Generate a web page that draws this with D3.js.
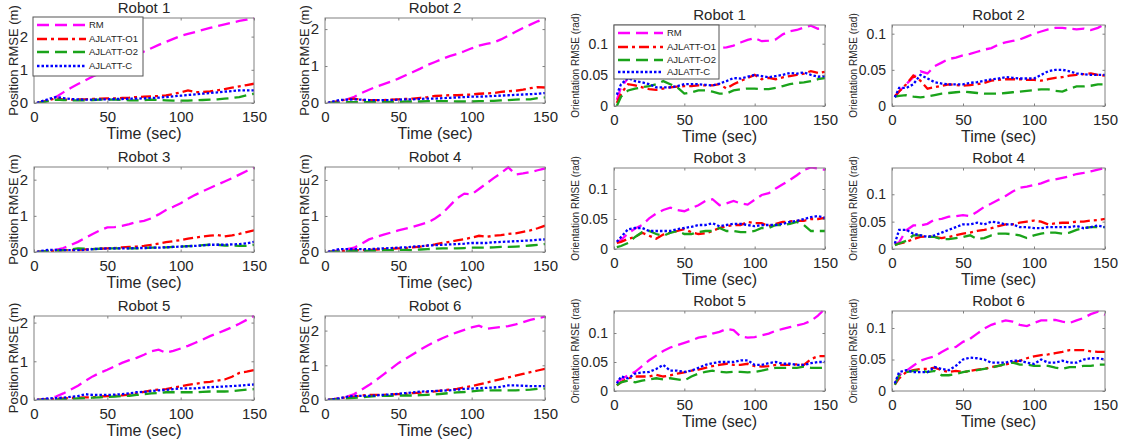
<!DOCTYPE html>
<html>
<head>
<meta charset="utf-8">
<script src="https://cdn.jsdelivr.net/npm/d3@7"></script>
<style>
  body { margin: 0; background: #fff; }
  svg { display: block; font-family: "Liberation Sans", Arial, sans-serif; }
</style>
</head>
<body>
<div id="chart"></div>
<script>
'use strict'

// time stamps (sec) shared by every series
var time = [2, 5, 10, 15, 20, 25, 30, 35, 40, 45, 50, 55, 60, 65, 70, 75, 80, 85, 90, 95, 100, 105, 110, 115, 120, 125, 130, 135, 140, 145, 150];

var robots = ['Robot 1', 'Robot 2', 'Robot 3', 'Robot 4', 'Robot 5', 'Robot 6'];
var seriesNames = ['RM', 'AJLATT-O1', 'AJLATT-O2', 'AJLATT-C'];
var xTicks = [0, 50, 100, 150];
var posTicks = [0, 1, 2];
var oriTicks = [0, 0.05, 0.1];
var posMax = [2.56, 2.3, 2.35, 2.36, 2.17, 2.42];
var oriMax = [0.13, 0.112, 0.135, 0.148, 0.138, 0.127];

// position RMSE (m), one row per robot
var posRM = [
  [0, 0.02, 0.08, 0.18, 0.32, 0.45, 0.57, 0.68, 0.8, 0.9, 1.0, 1.13, 1.25, 1.35, 1.45, 1.55, 1.65, 1.75, 1.84, 1.93, 2.02, 2.08, 2.14, 2.2, 2.26, 2.32, 2.37, 2.42, 2.47, 2.51, 2.55],
  [0, 0.01, 0.04, 0.1, 0.17, 0.27, 0.36, 0.44, 0.51, 0.58, 0.66, 0.75, 0.84, 0.93, 1.03, 1.11, 1.19, 1.27, 1.33, 1.4, 1.48, 1.55, 1.6, 1.64, 1.72, 1.82, 1.93, 2.03, 2.12, 2.21, 2.29],
  [0, 0.01, 0.03, 0.06, 0.11, 0.19, 0.28, 0.39, 0.5, 0.6, 0.68, 0.69, 0.72, 0.77, 0.83, 0.86, 0.93, 1.04, 1.16, 1.25, 1.35, 1.47, 1.58, 1.68, 1.77, 1.86, 1.95, 2.04, 2.14, 2.24, 2.33],
  [0, 0.02, 0.05, 0.08, 0.12, 0.23, 0.35, 0.42, 0.48, 0.54, 0.6, 0.65, 0.7, 0.76, 0.82, 0.93, 1.07, 1.28, 1.49, 1.62, 1.6, 1.75, 1.9, 2.05, 2.19, 2.35, 2.15, 2.18, 2.22, 2.27, 2.32],
  [0, 0.01, 0.03, 0.09, 0.17, 0.27, 0.37, 0.49, 0.61, 0.7, 0.78, 0.87, 0.96, 1.03, 1.09, 1.17, 1.26, 1.3, 1.22, 1.27, 1.33, 1.4, 1.48, 1.56, 1.65, 1.72, 1.8, 1.88, 1.97, 2.07, 2.17],
  [0, 0.02, 0.05, 0.1, 0.17, 0.3, 0.43, 0.58, 0.74, 0.9, 1.06, 1.19, 1.32, 1.45, 1.57, 1.68, 1.78, 1.87, 1.95, 2.02, 2.09, 2.14, 2.05, 2.08, 2.1, 2.13, 2.18, 2.24, 2.31, 2.36, 2.4]
];
var posO1 = [
  [0, 0.03, 0.08, 0.15, 0.1, 0.1, 0.11, 0.11, 0.12, 0.13, 0.14, 0.14, 0.15, 0.16, 0.18, 0.19, 0.2, 0.21, 0.23, 0.27, 0.32, 0.38, 0.33, 0.33, 0.35, 0.38, 0.42, 0.46, 0.5, 0.54, 0.58],
  [0, 0.02, 0.06, 0.1, 0.12, 0.08, 0.08, 0.08, 0.08, 0.09, 0.1, 0.11, 0.12, 0.14, 0.16, 0.19, 0.2, 0.21, 0.21, 0.22, 0.23, 0.25, 0.26, 0.27, 0.3, 0.32, 0.33, 0.36, 0.4, 0.43, 0.42],
  [0, 0.01, 0.02, 0.04, 0.05, 0.05, 0.06, 0.07, 0.08, 0.09, 0.1, 0.11, 0.13, 0.14, 0.15, 0.17, 0.2, 0.23, 0.27, 0.3, 0.33, 0.37, 0.4, 0.43, 0.45, 0.47, 0.43, 0.46, 0.5, 0.55, 0.6],
  [0, 0.01, 0.02, 0.04, 0.05, 0.05, 0.06, 0.07, 0.08, 0.09, 0.1, 0.11, 0.13, 0.15, 0.18, 0.21, 0.25, 0.28, 0.32, 0.36, 0.4, 0.45, 0.42, 0.45, 0.47, 0.5, 0.52, 0.56, 0.6, 0.66, 0.73],
  [0, 0.01, 0.02, 0.03, 0.04, 0.05, 0.06, 0.07, 0.07, 0.09, 0.1, 0.11, 0.12, 0.14, 0.17, 0.21, 0.25, 0.27, 0.28, 0.32, 0.35, 0.39, 0.42, 0.45, 0.47, 0.5, 0.53, 0.6, 0.7, 0.73, 0.77],
  [0, 0.02, 0.05, 0.08, 0.1, 0.13, 0.15, 0.15, 0.15, 0.16, 0.17, 0.18, 0.2, 0.21, 0.23, 0.25, 0.28, 0.3, 0.32, 0.36, 0.4, 0.45, 0.5, 0.55, 0.6, 0.65, 0.7, 0.75, 0.8, 0.85, 0.9]
];
var posO2 = [
  [0, 0.02, 0.06, 0.1, 0.09, 0.08, 0.08, 0.08, 0.09, 0.1, 0.1, 0.1, 0.09, 0.08, 0.08, 0.09, 0.1, 0.09, 0.08, 0.07, 0.07, 0.07, 0.08, 0.09, 0.1, 0.11, 0.13, 0.15, 0.18, 0.23, 0.28],
  [0, 0.01, 0.01, 0.02, 0.02, 0.02, 0.02, 0.02, 0.02, 0.03, 0.03, 0.04, 0.04, 0.04, 0.05, 0.05, 0.05, 0.05, 0.04, 0.04, 0.04, 0.05, 0.05, 0.06, 0.07, 0.08, 0.09, 0.1, 0.1, 0.13, 0.15],
  [0, 0.01, 0.03, 0.04, 0.05, 0.07, 0.1, 0.09, 0.08, 0.09, 0.1, 0.1, 0.1, 0.1, 0.1, 0.11, 0.12, 0.12, 0.13, 0.14, 0.15, 0.16, 0.17, 0.19, 0.2, 0.2, 0.18, 0.18, 0.17, 0.17, 0.2],
  [0, 0.01, 0.02, 0.02, 0.03, 0.03, 0.04, 0.04, 0.05, 0.05, 0.06, 0.06, 0.05, 0.07, 0.08, 0.09, 0.1, 0.1, 0.1, 0.11, 0.12, 0.12, 0.12, 0.13, 0.14, 0.14, 0.15, 0.16, 0.18, 0.2, 0.22],
  [0, 0.005, 0.01, 0.015, 0.02, 0.03, 0.04, 0.05, 0.06, 0.07, 0.08, 0.09, 0.1, 0.11, 0.13, 0.15, 0.17, 0.18, 0.2, 0.2, 0.2, 0.2, 0.2, 0.21, 0.22, 0.22, 0.22, 0.23, 0.25, 0.27, 0.28],
  [0, 0.01, 0.03, 0.05, 0.06, 0.08, 0.1, 0.11, 0.12, 0.12, 0.13, 0.13, 0.13, 0.14, 0.15, 0.16, 0.18, 0.2, 0.22, 0.23, 0.25, 0.27, 0.28, 0.28, 0.28, 0.28, 0.28, 0.29, 0.3, 0.32, 0.33]
];
var posC = [
  [0, 0.05, 0.12, 0.18, 0.15, 0.12, 0.11, 0.1, 0.1, 0.11, 0.11, 0.12, 0.12, 0.13, 0.13, 0.14, 0.15, 0.16, 0.18, 0.2, 0.22, 0.24, 0.26, 0.28, 0.3, 0.32, 0.34, 0.36, 0.38, 0.38, 0.38],
  [0, 0.04, 0.08, 0.09, 0.1, 0.09, 0.08, 0.08, 0.08, 0.08, 0.09, 0.1, 0.1, 0.11, 0.12, 0.12, 0.13, 0.14, 0.15, 0.16, 0.17, 0.17, 0.18, 0.19, 0.2, 0.21, 0.22, 0.23, 0.24, 0.25, 0.27],
  [0, 0.03, 0.06, 0.06, 0.05, 0.05, 0.05, 0.06, 0.08, 0.09, 0.1, 0.1, 0.1, 0.1, 0.11, 0.11, 0.12, 0.12, 0.13, 0.14, 0.15, 0.16, 0.17, 0.18, 0.2, 0.2, 0.2, 0.21, 0.22, 0.24, 0.28],
  [0, 0.04, 0.08, 0.08, 0.08, 0.08, 0.08, 0.09, 0.1, 0.11, 0.12, 0.13, 0.15, 0.16, 0.18, 0.19, 0.2, 0.21, 0.22, 0.23, 0.25, 0.25, 0.25, 0.27, 0.28, 0.29, 0.3, 0.31, 0.32, 0.34, 0.35],
  [0, 0.02, 0.04, 0.05, 0.06, 0.08, 0.1, 0.15, 0.13, 0.13, 0.13, 0.14, 0.15, 0.17, 0.2, 0.21, 0.23, 0.25, 0.26, 0.28, 0.3, 0.3, 0.3, 0.32, 0.33, 0.34, 0.35, 0.36, 0.37, 0.39, 0.4],
  [0, 0.02, 0.05, 0.09, 0.12, 0.12, 0.12, 0.13, 0.15, 0.16, 0.18, 0.2, 0.22, 0.24, 0.25, 0.26, 0.27, 0.28, 0.3, 0.32, 0.33, 0.34, 0.35, 0.36, 0.38, 0.42, 0.42, 0.41, 0.4, 0.4, 0.4]
];

// orientation RMSE (rad), one row per robot
var oriRM = [
  [0.01, 0.03, 0.045, 0.055, 0.06, 0.065, 0.07, 0.072, 0.075, 0.078, 0.08, 0.083, 0.085, 0.088, 0.09, 0.093, 0.094, 0.097, 0.102, 0.106, 0.109, 0.104, 0.105, 0.107, 0.115, 0.12, 0.122, 0.126, 0.129, 0.124, 0.125],
  [0.013, 0.02, 0.03, 0.04, 0.048, 0.045, 0.055, 0.06, 0.065, 0.067, 0.07, 0.072, 0.075, 0.078, 0.08, 0.085, 0.088, 0.09, 0.092, 0.096, 0.1, 0.103, 0.106, 0.108, 0.108, 0.107, 0.106, 0.107, 0.105, 0.108, 0.113],
  [0.012, 0.015, 0.026, 0.034, 0.04, 0.051, 0.059, 0.065, 0.069, 0.065, 0.063, 0.068, 0.073, 0.08, 0.083, 0.073, 0.076, 0.08, 0.076, 0.074, 0.082, 0.09, 0.093, 0.101, 0.108, 0.115, 0.123, 0.132, 0.136, 0.134, 0.132],
  [0.009, 0.012, 0.034, 0.043, 0.043, 0.046, 0.054, 0.055, 0.059, 0.06, 0.062, 0.06, 0.068, 0.077, 0.083, 0.09, 0.097, 0.105, 0.112, 0.114, 0.117, 0.12, 0.125, 0.127, 0.13, 0.133, 0.137, 0.139, 0.142, 0.145, 0.148],
  [0.016, 0.02, 0.027, 0.033, 0.043, 0.053, 0.061, 0.069, 0.075, 0.079, 0.083, 0.087, 0.092, 0.094, 0.099, 0.102, 0.107, 0.105, 0.094, 0.092, 0.093, 0.096, 0.099, 0.104, 0.107, 0.11, 0.113, 0.116, 0.121, 0.13, 0.142],
  [0.012, 0.025, 0.032, 0.04, 0.048, 0.052, 0.055, 0.062, 0.068, 0.07, 0.078, 0.083, 0.091, 0.099, 0.105, 0.109, 0.112, 0.11, 0.105, 0.103, 0.108, 0.112, 0.112, 0.113, 0.11, 0.108, 0.112, 0.116, 0.122, 0.126, 0.121]
];
var oriO1 = [
  [0.005, 0.02, 0.035, 0.033, 0.03, 0.027, 0.026, 0.028, 0.03, 0.031, 0.032, 0.032, 0.033, 0.033, 0.033, 0.035, 0.028, 0.035, 0.04, 0.045, 0.05, 0.043, 0.045, 0.043, 0.046, 0.048, 0.05, 0.052, 0.056, 0.053, 0.055],
  [0.013, 0.02, 0.03, 0.042, 0.035, 0.024, 0.026, 0.028, 0.03, 0.029, 0.028, 0.029, 0.03, 0.032, 0.035, 0.036, 0.037, 0.037, 0.037, 0.036, 0.036, 0.035, 0.037, 0.039, 0.04, 0.042, 0.043, 0.044, 0.045, 0.043, 0.042],
  [0.01, 0.012, 0.017, 0.02, 0.027, 0.022, 0.017, 0.024, 0.027, 0.03, 0.033, 0.028, 0.025, 0.026, 0.03, 0.035, 0.038, 0.04, 0.04, 0.045, 0.043, 0.043, 0.038, 0.042, 0.045, 0.046, 0.047, 0.047, 0.05, 0.05, 0.052],
  [0.008, 0.01, 0.013, 0.018, 0.022, 0.023, 0.022, 0.02, 0.022, 0.025, 0.028, 0.03, 0.033, 0.035, 0.038, 0.042, 0.045, 0.045, 0.048, 0.05, 0.052, 0.05, 0.045, 0.047, 0.048, 0.048, 0.05, 0.05, 0.052, 0.053, 0.055],
  [0.01, 0.015, 0.022, 0.025, 0.025, 0.025, 0.028, 0.025, 0.027, 0.03, 0.032, 0.035, 0.037, 0.04, 0.043, 0.045, 0.047, 0.045, 0.045, 0.047, 0.043, 0.042, 0.043, 0.045, 0.045, 0.045, 0.046, 0.045, 0.055, 0.06, 0.06],
  [0.01, 0.02, 0.03, 0.033, 0.035, 0.035, 0.037, 0.033, 0.03, 0.032, 0.03, 0.032, 0.034, 0.035, 0.038, 0.04, 0.042, 0.045, 0.048, 0.052, 0.055, 0.057, 0.058, 0.06, 0.062, 0.065, 0.065, 0.065, 0.063, 0.062, 0.062]
];
var oriO2 = [
  [0, 0.015, 0.025, 0.028, 0.03, 0.032, 0.035, 0.04, 0.035, 0.03, 0.02, 0.022, 0.025, 0.025, 0.023, 0.02, 0.02, 0.025, 0.027, 0.028, 0.028, 0.027, 0.027, 0.029, 0.032, 0.035, 0.037, 0.038, 0.04, 0.043, 0.045],
  [0.013, 0.014, 0.015, 0.013, 0.012, 0.013, 0.015, 0.017, 0.018, 0.019, 0.02, 0.019, 0.018, 0.017, 0.017, 0.017, 0.018, 0.019, 0.02, 0.021, 0.022, 0.023, 0.023, 0.021, 0.02, 0.024, 0.027, 0.027, 0.028, 0.03, 0.03],
  [0.003, 0.005, 0.01, 0.02, 0.028, 0.03, 0.025, 0.022, 0.027, 0.03, 0.025, 0.025, 0.028, 0.03, 0.03, 0.035, 0.03, 0.03, 0.028, 0.028, 0.03, 0.035, 0.035, 0.04, 0.04, 0.042, 0.045, 0.04, 0.03, 0.03, 0.03],
  [0.007, 0.01, 0.015, 0.025, 0.025, 0.022, 0.022, 0.018, 0.018, 0.02, 0.022, 0.025, 0.018, 0.02, 0.025, 0.028, 0.028, 0.027, 0.025, 0.02, 0.025, 0.028, 0.03, 0.03, 0.028, 0.03, 0.035, 0.038, 0.04, 0.04, 0.04],
  [0.01, 0.015, 0.018, 0.015, 0.018, 0.02, 0.022, 0.02, 0.022, 0.02, 0.018, 0.025, 0.03, 0.033, 0.035, 0.033, 0.032, 0.033, 0.033, 0.032, 0.033, 0.035, 0.038, 0.04, 0.04, 0.04, 0.04, 0.042, 0.04, 0.04, 0.04],
  [0.01, 0.025, 0.03, 0.032, 0.033, 0.03, 0.032, 0.025, 0.025, 0.027, 0.03, 0.032, 0.033, 0.035, 0.037, 0.04, 0.043, 0.045, 0.042, 0.042, 0.04, 0.04, 0.04, 0.037, 0.035, 0.038, 0.038, 0.04, 0.04, 0.042, 0.042]
];
var oriC = [
  [0.018, 0.035, 0.045, 0.04, 0.038, 0.035, 0.03, 0.03, 0.03, 0.032, 0.035, 0.035, 0.035, 0.034, 0.033, 0.036, 0.04, 0.045, 0.044, 0.047, 0.05, 0.048, 0.046, 0.048, 0.05, 0.053, 0.052, 0.054, 0.05, 0.047, 0.048],
  [0.012, 0.025, 0.025, 0.03, 0.043, 0.038, 0.033, 0.031, 0.03, 0.03, 0.03, 0.032, 0.033, 0.035, 0.037, 0.038, 0.04, 0.039, 0.038, 0.038, 0.038, 0.043, 0.048, 0.05, 0.05, 0.048, 0.045, 0.044, 0.043, 0.043, 0.043],
  [0.012, 0.02, 0.033, 0.035, 0.035, 0.03, 0.03, 0.03, 0.03, 0.033, 0.035, 0.037, 0.04, 0.04, 0.043, 0.038, 0.04, 0.042, 0.042, 0.04, 0.038, 0.04, 0.04, 0.04, 0.042, 0.045, 0.047, 0.05, 0.053, 0.055, 0.052],
  [0.01, 0.035, 0.035, 0.028, 0.025, 0.022, 0.025, 0.03, 0.035, 0.04, 0.045, 0.045, 0.048, 0.045, 0.05, 0.048, 0.045, 0.045, 0.04, 0.04, 0.038, 0.038, 0.04, 0.04, 0.04, 0.04, 0.042, 0.038, 0.04, 0.043, 0.04],
  [0.013, 0.025, 0.022, 0.03, 0.032, 0.033, 0.038, 0.045, 0.035, 0.035, 0.033, 0.035, 0.04, 0.045, 0.048, 0.05, 0.05, 0.05, 0.053, 0.053, 0.045, 0.045, 0.048, 0.05, 0.047, 0.047, 0.045, 0.045, 0.048, 0.05, 0.05],
  [0.012, 0.03, 0.033, 0.03, 0.03, 0.03, 0.038, 0.035, 0.033, 0.04, 0.05, 0.053, 0.052, 0.05, 0.045, 0.045, 0.045, 0.048, 0.048, 0.045, 0.043, 0.05, 0.045, 0.045, 0.048, 0.045, 0.045, 0.05, 0.052, 0.052, 0.05]
];

(function() {
  var W = 1127, H = 445;
  var textColor = '#262626';
  var boxColor = '#808080';

  var lineStyles = [
    { color: '#ff00ff', dash: '12,6' },
    { color: '#ff0000', dash: '10,4,3,4' },
    { color: '#1aa31a', dash: '12,6' },
    { color: '#0000ff', dash: '2.5,2' }
  ];

  // axes boxes: columns [left, right], rows [top, bottom]
  var colX = [[34, 254], [325, 545], [614, 825], [892, 1105]];
  var rowY = {
    pos: [[18, 103], [167, 252], [316, 400]],
    ori: [[25, 106], [168, 249], [311, 391]]
  };

  var svg = d3.select('#chart').append('svg')
    .attr('width', W)
    .attr('height', H);

  var defs = svg.append('defs');

  function drawPanel(kind, i) {
    var row = Math.floor(i / 2);
    var col = (i % 2) + (kind === 'ori' ? 2 : 0);
    var left = colX[col][0], right = colX[col][1];
    var top = rowY[kind][row][0], bottom = rowY[kind][row][1];
    var ymax = kind === 'pos' ? posMax[i] : oriMax[i];
    var ticks = kind === 'pos' ? posTicks : oriTicks;
    var data = kind === 'pos' ? [posRM[i], posO1[i], posO2[i], posC[i]] : [oriRM[i], oriO1[i], oriO2[i], oriC[i]];

    var x = d3.scaleLinear().domain([0, 150]).range([left, right]);
    var y = d3.scaleLinear().domain([0, ymax]).range([bottom, top]);

    var g = svg.append('g').attr('class', 'panel');
    var clipId = 'clip-' + kind + i;
    defs.append('clipPath').attr('id', clipId)
      .append('rect')
      .attr('x', left).attr('y', top - 1)
      .attr('width', right - left).attr('height', bottom - top + 1);

    var lineG = g.append('g').attr('clip-path', 'url(#' + clipId + ')');
    var line = d3.line()
      .x(function(d, j) { return x(time[j]); })
      .y(function(d) { return y(d); });

    data.forEach(function(vals, s) {
      lineG.append('path')
        .datum(vals)
        .attr('d', line)
        .attr('fill', 'none')
        .attr('stroke', lineStyles[s].color)
        .attr('stroke-width', 2.3)
        .attr('stroke-dasharray', lineStyles[s].dash);
    });

    // axes
    var xAxis = d3.axisBottom(x).tickValues(xTicks).tickSizeInner(-2.5).tickSizeOuter(0).tickPadding(6);
    var xAxisTop = d3.axisTop(x).tickValues(xTicks).tickSizeInner(-2.5).tickSizeOuter(0).tickFormat('');
    var yAxis = d3.axisLeft(y).tickValues(ticks).tickSizeInner(-2.5).tickSizeOuter(0).tickPadding(6)
      .tickFormat(function(d) { return String(d); });
    var yAxisRight = d3.axisRight(y).tickValues(ticks).tickSizeInner(-2.5).tickSizeOuter(0).tickFormat('');

    var ax = g.append('g').attr('transform', 'translate(0,' + bottom + ')').call(xAxis);
    var axT = g.append('g').attr('transform', 'translate(0,' + top + ')').call(xAxisTop);
    var ay = g.append('g').attr('transform', 'translate(' + left + ',0)').call(yAxis);
    var ayR = g.append('g').attr('transform', 'translate(' + right + ',0)').call(yAxisRight);

    [ax, axT, ay, ayR].forEach(function(a) {
      a.select('.domain').remove();
      a.selectAll('.tick line').attr('stroke', boxColor);
      a.selectAll('.tick text')
        .attr('fill', textColor)
        .style('font-family', '"Liberation Sans", Arial, sans-serif');
    });
    ax.selectAll('.tick text').style('font-size', '15px').attr('dy', '0.85em');
    ay.selectAll('.tick text').style('font-size', kind === 'pos' ? '15px' : '14px');

    g.append('rect')
      .attr('x', left).attr('y', top)
      .attr('width', right - left).attr('height', bottom - top)
      .attr('fill', 'none')
      .attr('stroke', boxColor)
      .attr('stroke-width', 1);

    // title and labels
    g.append('text')
      .attr('x', (left + right) / 2)
      .attr('y', top - 5)
      .attr('text-anchor', 'middle')
      .attr('fill', textColor)
      .style('font-size', '15px')
      .text(robots[i]);

    g.append('text')
      .attr('x', (left + right) / 2)
      .attr('y', bottom + 36)
      .attr('text-anchor', 'middle')
      .attr('fill', textColor)
      .style('font-size', '16px')
      .text('Time (sec)');

    var labX = kind === 'pos' ? left - 21 : left - 39;
    g.append('text')
      .attr('transform', 'translate(' + labX + ',' + ((top + bottom) / 2) + ') rotate(-90)')
      .attr('text-anchor', 'middle')
      .attr('dy', '0.35em')
      .attr('fill', textColor)
      .style('font-size', kind === 'pos' ? '13px' : '10px')
      .text(kind === 'pos' ? 'Position RMSE (m)' : 'Orientation RMSE (rad)');

    if (i === 0) drawLegend(g, kind, left, top);
  }

  function drawLegend(g, kind, left, top) {
    var box = kind === 'pos'
      ? { x: left - 1, y: top - 1, w: 110, h: 59, rows: [8, 22, 35, 49], l1: 4, l2: 53, tx: 56 }
      : { x: left, y: top, w: 105, h: 54, rows: [8, 22, 35, 47], l1: 4, l2: 49, tx: 53 };

    var lg = g.append('g').attr('class', 'legend');
    lg.append('rect')
      .attr('x', box.x).attr('y', box.y)
      .attr('width', box.w).attr('height', box.h)
      .attr('fill', '#fff')
      .attr('stroke', '#555')
      .attr('stroke-width', 1);

    seriesNames.forEach(function(name, s) {
      var yy = box.y + box.rows[s];
      lg.append('line')
        .attr('x1', box.x + box.l1).attr('x2', box.x + box.l2)
        .attr('y1', yy).attr('y2', yy)
        .attr('stroke', lineStyles[s].color)
        .attr('stroke-width', 2.3)
        .attr('stroke-dasharray', lineStyles[s].dash);
      lg.append('text')
        .attr('x', box.x + box.tx)
        .attr('y', yy)
        .attr('dy', '0.35em')
        .attr('fill', textColor)
        .style('font-size', '9.5px')
        .text(name);
    });
  }

  for (var i = 0; i < robots.length; i++) {
    drawPanel('pos', i);
    drawPanel('ori', i);
  }
})();
</script>
</body>
</html>
